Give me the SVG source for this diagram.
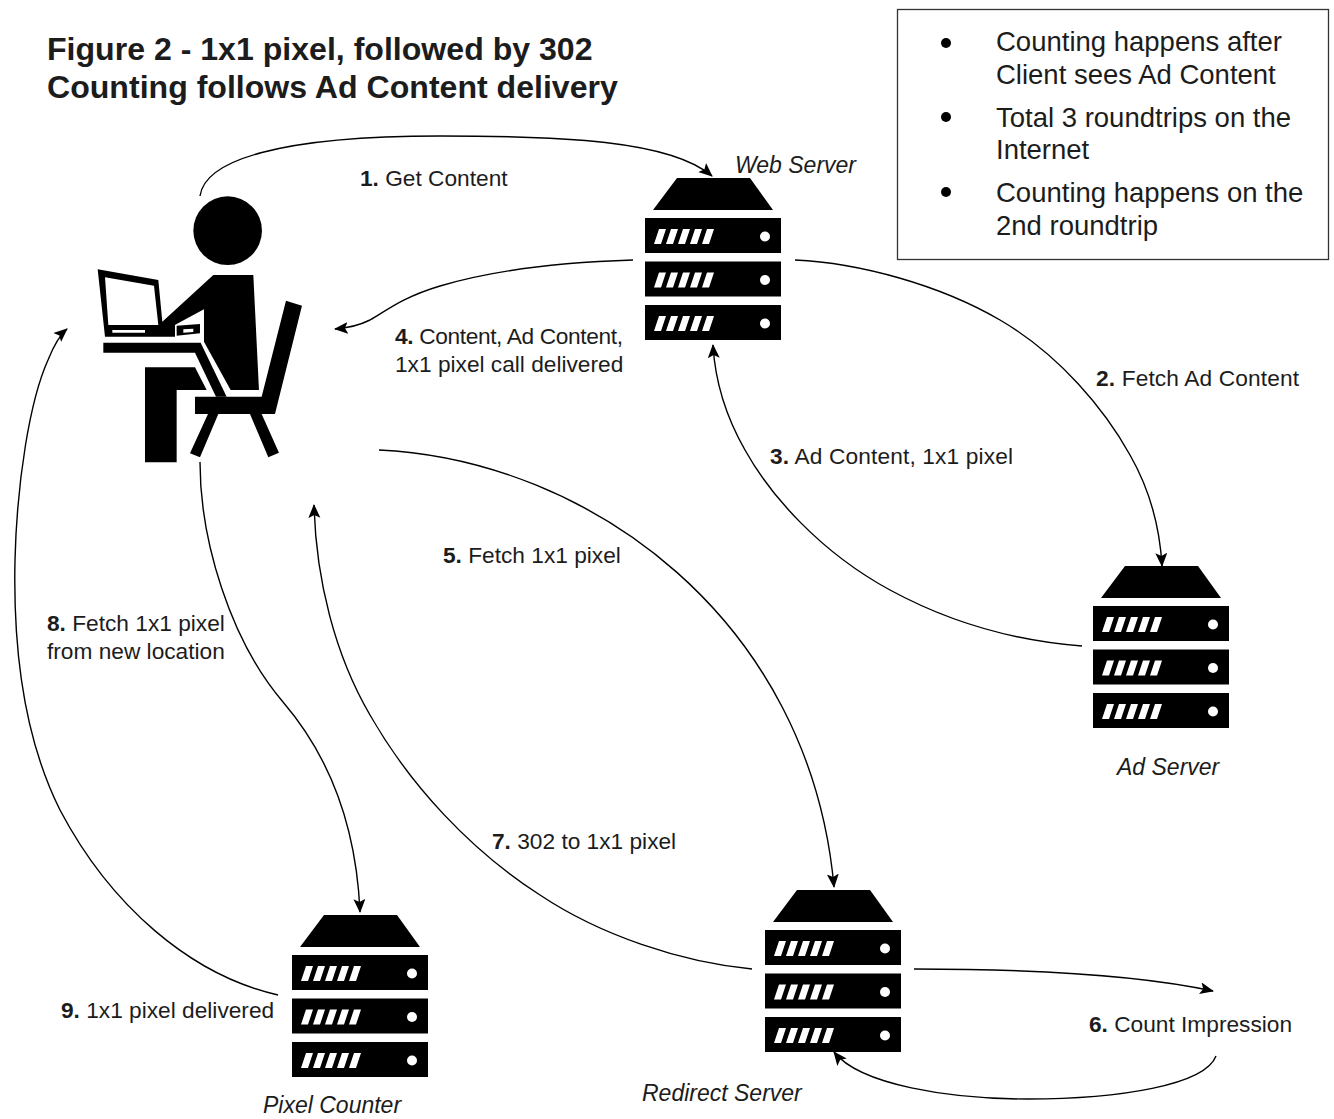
<svg xmlns="http://www.w3.org/2000/svg" width="1334" height="1119" viewBox="0 0 1334 1119">
<style>
text{font-family:"Liberation Sans",Arial,sans-serif;fill:#1c1c1c}
.t{font-size:32.1px;font-weight:bold}
.b{font-size:27.5px}
.l{font-size:22.7px}
.i{font-size:23px;font-style:italic}
.c{fill:none;stroke:#000;stroke-width:1.4;marker-end:url(#a)}
</style>
<defs>
<marker id="a" markerUnits="userSpaceOnUse" markerWidth="16" markerHeight="14" refX="13" refY="6" orient="auto"><path d="M0 0L14 6L0 12L3 6Z" fill="#000"/></marker>
<g id="rack"><rect x="645" y="218" width="136" height="35" fill="#000"/>
<path d="M659 229h7l-5 15h-7zM671 229h7l-5 15h-7zM683 229h7l-5 15h-7zM695 229h7l-5 15h-7zM707 229h7l-5 15h-7z" fill="#fff"/>
<circle cx="765" cy="236.500" r="5" fill="#fff"/></g>
<g id="srv">
<path d="M677 178H750L773 210H653Z" fill="#000"/>
<use href="#rack"/><use href="#rack" y="43.500"/><use href="#rack" y="87"/>
</g>
</defs>
<rect width="1334" height="1119" fill="#fff"/>
<g id="title"><text class="t" x="47" y="60">Figure 2 - 1x1 pixel, followed by 302</text><text class="t" x="47" y="98">Counting follows Ad Content delivery</text></g>
<g id="notes"><rect x="897.500" y="9.500" width="431" height="250" fill="#fff" stroke="#333" stroke-width="1.300"/>
<circle cx="946" cy="43" r="5" fill="#000"/><circle cx="946" cy="117" r="5" fill="#000"/><circle cx="946" cy="192" r="5" fill="#000"/>
<text class="b" x="996" y="51">Counting happens after</text><text class="b" x="996" y="84">Client sees Ad Content</text>
<text class="b" x="996" y="127">Total 3 roundtrips on the</text><text class="b" x="996" y="159">Internet</text>
<text class="b" x="996" y="202">Counting happens on the</text><text class="b" x="996" y="235">2nd roundtrip</text></g>
<g id="connectors">
<path class="c" d="M200 196C205 160 280 136 440 136C560 136 670 140 712 176"/>
<path class="c" d="M795 260C860 263 940 285 1000 320C1060 355 1105 410 1130 455C1150 490 1160 530 1162 566"/>
<path class="c" d="M1082 646C1030 642 960 628 890 590C820 552 770 495 745 450C725 415 715 380 713 345"/>
<path class="c" d="M633 260C570 262 500 268 440 286C400 298 385 312 370 320C358 326 347 328 335 329"/>
<path class="c" d="M379 450C590 460 810 620 834 887"/>
<path class="c" d="M752 969C680 962 600 935 540 895C470 850 410 785 370 715C335 655 316 580 314 505"/>
<path class="c" d="M914 969C1010 969 1130 973 1213 991"/>
<path class="c" d="M1216 1056C1205 1085 1120 1099 1027 1099C950 1099 860 1085 834 1052"/>
<path class="c" d="M200 462C200 540 230 640 283 702C325 751 356 820 360 912"/>
<path class="c" d="M278 995C190 975 110 905 60 810C25 740 13 650 15 560C17 480 30 400 48 360C54 345 60 335 67 329"/>
</g>
<g id="labels">
<text class="l" x="360" y="186"><tspan font-weight="bold">1.</tspan> Get Content</text>
<text class="l" x="1096" y="386" textLength="203"><tspan font-weight="bold">2.</tspan> Fetch Ad Content</text>
<text class="l" x="770" y="464" textLength="243"><tspan font-weight="bold">3.</tspan> Ad Content, 1x1 pixel</text>
<text class="l" x="395" y="344" textLength="228"><tspan font-weight="bold">4.</tspan> Content, Ad Content,</text>
<text class="l" x="395" y="372">1x1 pixel call delivered</text>
<text class="l" x="443" y="563"><tspan font-weight="bold">5.</tspan> Fetch 1x1 pixel</text>
<text class="l" x="1089" y="1032"><tspan font-weight="bold">6.</tspan> Count Impression</text>
<text class="l" x="492" y="849"><tspan font-weight="bold">7.</tspan> 302 to 1x1 pixel</text>
<text class="l" x="47" y="631"><tspan font-weight="bold">8.</tspan> Fetch 1x1 pixel</text>
<text class="l" x="47" y="659">from new location</text>
<text class="l" x="61" y="1018"><tspan font-weight="bold">9.</tspan> 1x1 pixel delivered</text>
</g>
<g id="client" transform="translate(80 170) scale(.3333)" fill="#000">
<circle cx="443" cy="182" r="103"/>
<path fill-rule="evenodd" d="M53 298L235 330L247 455L400 315H520L537 660H452L372 515V418L290 462L285 465V500H75ZM75 322L222 347L235 465H85Z"/>
<path d="M290 467L360 462V490L290 497Z"/>
<path d="M70 518H362L440 680H408L345 548H70Z"/>
<path d="M195 592H345L380 660H290V877H195Z"/>
<path d="M618 392L666 407L585 732H345V680H545Z"/>
<path d="M385 730L330 850L360 862L415 732ZM510 732L565 862L597 848L545 732Z"/>
<path d="M97 480H195V488H97ZM310 478L340 476V486L310 488Z" fill="#fff"/>
</g>
<g id="web-server"><use href="#srv"/><text class="i" x="735" y="173">Web Server</text></g>
<g id="ad-server"><use href="#srv" x="448" y="388"/><text class="i" x="1117" y="775">Ad Server</text></g>
<g id="redirect-server"><use href="#srv" x="120" y="712"/><text class="i" x="642" y="1101">Redirect Server</text></g>
<g id="pixel-counter"><use href="#srv" x="-353" y="737"/><text class="i" x="263" y="1113">Pixel Counter</text></g>
</svg>
